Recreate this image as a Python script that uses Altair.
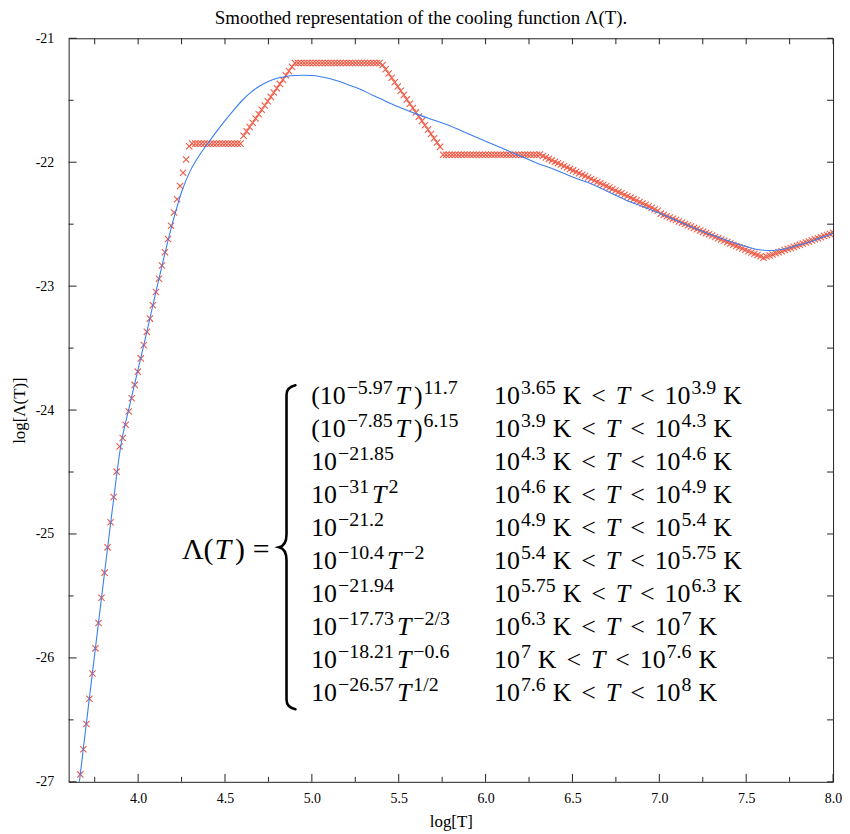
import altair as alt
import pandas as pd

# ---------------- text content ----------------
TITLE = "Smoothed representation of the cooling function Λ(T)."
X_TITLE = "log[T]"
Y_TITLE = "log[Λ(T)]"

# ---------------- data ----------------
# red "x" markers: sampled piecewise cooling function
logT_markers = [
    3.65, 3.6674, 3.6848, 3.7022, 3.7196, 3.737, 3.7544, 3.7718, 3.7892, 3.8066,
    3.824, 3.8414, 3.8588, 3.8762, 3.8936, 3.911, 3.9284, 3.9458, 3.9632, 3.9806,
    3.998, 4.0154, 4.0328, 4.0502, 4.0676, 4.085, 4.1024, 4.1198, 4.1372, 4.1546,
    4.172, 4.1894, 4.2068, 4.2242, 4.2416, 4.259, 4.2764, 4.2938, 4.3112, 4.3286,
    4.346, 4.3634, 4.3808, 4.3982, 4.4156, 4.433, 4.4504, 4.4678, 4.4852, 4.5026,
    4.52, 4.5374, 4.5548, 4.5722, 4.5896, 4.607, 4.6244, 4.6418, 4.6592, 4.6766,
    4.694, 4.7114, 4.7288, 4.7462, 4.7636, 4.781, 4.7984, 4.8158, 4.8332, 4.8506,
    4.868, 4.8854, 4.9028, 4.9202, 4.9376, 4.955, 4.9724, 4.9898, 5.0072, 5.0246,
    5.042, 5.0594, 5.0768, 5.0942, 5.1116, 5.129, 5.1464, 5.1638, 5.1812, 5.1986,
    5.216, 5.2334, 5.2508, 5.2682, 5.2856, 5.303, 5.3204, 5.3378, 5.3552, 5.3726,
    5.39, 5.4074, 5.4248, 5.4422, 5.4596, 5.477, 5.4944, 5.5118, 5.5292, 5.5466,
    5.564, 5.5814, 5.5988, 5.6162, 5.6336, 5.651, 5.6684, 5.6858, 5.7032, 5.7206,
    5.738, 5.7554, 5.7728, 5.7902, 5.8076, 5.825, 5.8424, 5.8598, 5.8772, 5.8946,
    5.912, 5.9294, 5.9468, 5.9642, 5.9816, 5.999, 6.0164, 6.0338, 6.0512, 6.0686,
    6.086, 6.1034, 6.1208, 6.1382, 6.1556, 6.173, 6.1904, 6.2078, 6.2252, 6.2426,
    6.26, 6.2774, 6.2948, 6.3122, 6.3296, 6.347, 6.3644, 6.3818, 6.3992, 6.4166,
    6.434, 6.4514, 6.4688, 6.4862, 6.5036, 6.521, 6.5384, 6.5558, 6.5732, 6.5906,
    6.608, 6.6254, 6.6428, 6.6602, 6.6776, 6.695, 6.7124, 6.7298, 6.7472, 6.7646,
    6.782, 6.7994, 6.8168, 6.8342, 6.8516, 6.869, 6.8864, 6.9038, 6.9212, 6.9386,
    6.956, 6.9734, 6.9908, 7.0082, 7.0256, 7.043, 7.0604, 7.0778, 7.0952, 7.1126,
    7.13, 7.1474, 7.1648, 7.1822, 7.1996, 7.217, 7.2344, 7.2518, 7.2692, 7.2866,
    7.304, 7.3214, 7.3388, 7.3562, 7.3736, 7.391, 7.4084, 7.4258, 7.4432, 7.4606,
    7.478, 7.4954, 7.5128, 7.5302, 7.5476, 7.565, 7.5824, 7.5998, 7.6172, 7.6346,
    7.652, 7.6694, 7.6868, 7.7042, 7.7216, 7.739, 7.7564, 7.7738, 7.7912, 7.8086,
    7.826, 7.8434, 7.8608, 7.8782, 7.8956, 7.913, 7.9304, 7.9478, 7.9652, 7.9826,
    8.0,
]
logL_markers = [
    -27.144, -26.940, -26.737, -26.533, -26.330, -26.126, -25.923, -25.719, -25.515, -25.312,
    -25.108, -24.905, -24.701, -24.497, -24.294,
    -24.225, -24.118, -24.011, -23.904, -23.797, -23.690, -23.583, -23.476, -23.369, -23.262,
    -23.155, -23.048, -22.941, -22.834, -22.727, -22.620, -22.513, -22.406, -22.299, -22.192,
    -22.085, -21.978, -21.871,
    -21.85, -21.85, -21.85, -21.85, -21.85, -21.85, -21.85, -21.85, -21.85, -21.85,
    -21.85, -21.85, -21.85, -21.85, -21.85, -21.85, -21.85,
    -21.786, -21.751, -21.716, -21.682, -21.647, -21.612, -21.577, -21.542, -21.508, -21.473,
    -21.438, -21.403, -21.368, -21.334, -21.299, -21.264, -21.229,
    -21.2, -21.2, -21.2, -21.2, -21.2, -21.2, -21.2, -21.2, -21.2, -21.2,
    -21.2, -21.2, -21.2, -21.2, -21.2, -21.2, -21.2, -21.2, -21.2, -21.2,
    -21.2, -21.2, -21.2, -21.2, -21.2, -21.2, -21.2, -21.2, -21.2,
    -21.215, -21.250, -21.284, -21.319, -21.354, -21.389, -21.424, -21.458, -21.493, -21.528,
    -21.563, -21.598, -21.632, -21.667, -21.702, -21.737, -21.772, -21.806, -21.841, -21.876,
    -21.94, -21.94, -21.94, -21.94, -21.94, -21.94, -21.94, -21.94, -21.94, -21.94,
    -21.94, -21.94, -21.94, -21.94, -21.94, -21.94, -21.94, -21.94, -21.94, -21.94,
    -21.94, -21.94, -21.94, -21.94, -21.94, -21.94, -21.94, -21.94, -21.94, -21.94,
    -21.94, -21.94,
    -21.938, -21.950, -21.961, -21.973, -21.985, -21.996, -22.008, -22.019, -22.031, -22.043,
    -22.054, -22.066, -22.077, -22.089, -22.101, -22.112, -22.124, -22.135, -22.147, -22.159,
    -22.170, -22.182, -22.193, -22.205, -22.217, -22.228, -22.240, -22.251, -22.263, -22.275,
    -22.286, -22.298, -22.309, -22.321, -22.333, -22.344, -22.356, -22.367, -22.379, -22.391,
    -22.415, -22.425, -22.436, -22.446, -22.457, -22.467, -22.478, -22.488, -22.498, -22.509,
    -22.519, -22.530, -22.540, -22.551, -22.561, -22.572, -22.582, -22.592, -22.603, -22.613,
    -22.624, -22.634, -22.645, -22.655, -22.666, -22.676, -22.686, -22.697, -22.707, -22.718,
    -22.728, -22.739, -22.749, -22.759, -22.770,
    -22.761, -22.753, -22.744, -22.735, -22.727, -22.718, -22.709, -22.701, -22.692, -22.683,
    -22.674, -22.666, -22.657, -22.648, -22.640, -22.631, -22.622, -22.614, -22.605, -22.596,
    -22.587, -22.579, -22.570,
]

# blue smoothed curve
logT_smooth = [
    3.65, 3.70, 3.75, 3.80, 3.85, 3.90, 3.95, 4.00, 4.05, 4.10, 4.15, 4.20, 4.25,
    4.30, 4.35, 4.40, 4.45, 4.50, 4.55, 4.60, 4.65, 4.70, 4.75, 4.80, 4.85, 4.90,
    4.95, 5.00, 5.05, 5.10, 5.15, 5.20, 5.25, 5.30, 5.35, 5.40, 5.45, 5.50, 5.60,
    5.70, 5.80, 5.90, 6.00, 6.10, 6.20, 6.30, 6.40, 6.50, 6.60, 6.70, 6.80, 6.90,
    7.00, 7.10, 7.20, 7.30, 7.40, 7.50, 7.55, 7.60, 7.65, 7.70, 7.75, 7.80, 7.85,
    7.90, 7.95, 8.00,
]
logL_smooth = [
    -27.14, -26.55, -25.97, -25.39, -24.82, -24.29, -23.97, -23.67, -23.37, -23.06, -22.76, -22.48, -22.24,
    -22.07, -21.95, -21.85, -21.755, -21.665, -21.58, -21.50, -21.435, -21.385, -21.348, -21.323, -21.308, -21.300,
    -21.298, -21.300, -21.31, -21.325, -21.345, -21.37, -21.395, -21.425, -21.46, -21.49, -21.525, -21.555, -21.61,
    -21.66, -21.71, -21.77, -21.83, -21.89, -21.95, -22.01, -22.06, -22.12, -22.17, -22.235, -22.30, -22.355,
    -22.41, -22.47, -22.53, -22.585, -22.635, -22.68, -22.70, -22.71, -22.712, -22.705, -22.69, -22.67, -22.65,
    -22.625, -22.60, -22.573,
]

# axis ticks
x_major = [4.0, 4.5, 5.0, 5.5, 6.0, 6.5, 7.0, 7.5, 8.0]
x_minor = [3.75, 4.25, 4.75, 5.25, 5.75, 6.25, 6.75, 7.25, 7.75]
y_major = [-27, -26, -25, -24, -23, -22, -21]
y_minor = [-26.5, -25.5, -24.5, -23.5, -22.5, -21.5]

# equation text (piecewise definition shown in the chart)
eq_lhs = [("Λ(", "R"), ("T", "I"), (")", "R"), ("=", "R")]
eq_left = [
    [("(10", "r"), ("−5.97", "s"), ("T", "i"), (")", "r"), ("11.7", "s")],
    [("(10", "r"), ("−7.85", "s"), ("T", "i"), (")", "r"), ("6.15", "s")],
    [("10", "r"), ("−21.85", "s")],
    [("10", "r"), ("−31", "s"), ("T", "i"), ("2", "s")],
    [("10", "r"), ("−21.2", "s")],
    [("10", "r"), ("−10.4", "s"), ("T", "i"), ("−2", "s")],
    [("10", "r"), ("−21.94", "s")],
    [("10", "r"), ("−17.73", "s"), ("T", "i"), ("−2/3", "s")],
    [("10", "r"), ("−18.21", "s"), ("T", "i"), ("−0.6", "s")],
    [("10", "r"), ("−26.57", "s"), ("T", "i"), ("1/2", "s")],
]
eq_lo = ["3.65", "3.9", "4.3", "4.6", "4.9", "5.4", "5.75", "6.3", "7", "7.6"]
eq_hi = ["3.9", "4.3", "4.6", "4.9", "5.4", "5.75", "6.3", "7", "7.6", "8"]

# ---------------- layout / style ----------------
W, H = 769, 748
PAD_L, PAD_T, PAD_R, PAD_B = 61, 28, 9, 48
OX, OY = 8 + PAD_L, 8 + PAD_T          # page position of plot origin
X0, X1 = 3.6, 8.0
Y0, Y1 = -27.0, -21.0
RED = "#ee5a46"
BLUE = "#3a7fef"
INK = "#222222"
SERIF = "Liberation Serif"

xs = alt.Scale(domain=[X0, X1], nice=False, zero=False)
ys = alt.Scale(domain=[Y0, Y1], nice=False, zero=False)

xaxis = alt.Axis(values=x_major, labelExpr="format(datum.value, '.1f')", title=X_TITLE,
                 ticks=False, tickSize=0, domain=False, grid=False, labelFlush=False,
                 labelFont=SERIF, labelFontSize=14, labelColor="black", labelPadding=10,
                 titleFont=SERIF, titleFontSize=17, titleFontWeight="normal",
                 titleColor="black", titlePadding=8)
yaxis = alt.Axis(values=y_major, labelExpr="'' + datum.value", title=Y_TITLE,
                 ticks=False, tickSize=0, domain=False, grid=False, labelFlush=False,
                 labelFont=SERIF, labelFontSize=14, labelColor="black", labelPadding=15,
                 titleFont=SERIF, titleFontSize=17, titleFontWeight="normal",
                 titleColor="black", titlePadding=7)


def X(field):
    return alt.X(f"{field}:Q", scale=xs, axis=xaxis)


def Y(field):
    return alt.Y(f"{field}:Q", scale=ys, axis=yaxis)


def px_to_data(px, py):
    return (X0 + (px - OX) / W * (X1 - X0), Y1 - (py - OY) / H * (Y1 - Y0))


# ---------------- main series ----------------
markers = alt.Chart(pd.DataFrame({"logT": logT_markers, "logL": logL_markers})).mark_point(
    shape="M-1,-1L1,1M-1,1L1,-1", size=40, strokeWidth=1.1, color=RED,
    filled=False, opacity=1, clip=True
).encode(x=X("logT"), y=Y("logL"))

curve = alt.Chart(pd.DataFrame({"logT": logT_smooth, "logL": logL_smooth})).mark_line(
    color=BLUE, strokeWidth=1.1, interpolate="monotone", clip=True
).encode(x=X("logT"), y=Y("logL"))

# ---------------- inward ticks on all four sides ----------------
tick_layers = []
for vals, ln in ((x_major, 8), (x_minor, 5)):
    d = pd.DataFrame({"t": vals})
    tick_layers.append(alt.Chart(d).mark_rule(color=INK, strokeWidth=1).encode(
        x=X("t"), y=alt.value(H), y2=alt.value(H - ln)))
    tick_layers.append(alt.Chart(d).mark_rule(color=INK, strokeWidth=1).encode(
        x=X("t"), y=alt.value(0), y2=alt.value(6)))
for vals, ln in ((y_major, 8), (y_minor, 5)):
    d = pd.DataFrame({"t": vals})
    tick_layers.append(alt.Chart(d).mark_rule(color=INK, strokeWidth=1).encode(
        y=Y("t"), x=alt.value(0), x2=alt.value(ln)))
    tick_layers.append(alt.Chart(d).mark_rule(color=INK, strokeWidth=1).encode(
        y=Y("t"), x=alt.value(W), x2=alt.value(W - 6)))

# ---------------- equation annotation ----------------
SIZES = {"r": 26, "i": 26, "s": 20, "R": 30, "I": 30}
EM = {"0": .5, "1": .5, "2": .5, "3": .5, "4": .5, "5": .5, "6": .5, "7": .5, "8": .5,
      "9": .5, ".": .25, "−": .564, "(": .333, ")": .333, "/": .278, "K": .722,
      "<": .564, "=": .564, "T": .556, "Λ": .722, " ": .25}


def tok_width(text, kind):
    return sum(EM.get(c, .5) for c in text) * SIZES[kind]


def tok_gap(prev, cur):
    (pt, pk), (ct, ck) = prev, cur
    if pt == "<" or ct == "<":
        return 10
    if ct == "=" or pt == "=":
        return 8
    if ck == "s":
        return 2 if pk == "i" else 1
    if pk == "s" and ck == "i":
        return 3
    if pk == "s":
        return 7
    if pk in "iI":
        return 4
    if pk == "R" and ck == "I":
        return 1
    return 0


rows = []


def lay(tokens, x, base):
    prev = None
    for t, k in tokens:
        if prev is not None:
            x += tok_gap(prev, (t, k))
        y = base - 10 if k == "s" else base
        dx, dy = px_to_data(x, y)
        rows.append({"x": dx, "y": dy, "text": t, "kind": k})
        x += tok_width(t, k)
        prev = (t, k)


lay(eq_lhs, 183, 560)
for i, toks in enumerate(eq_left):
    base = 404 + 33.2 * i
    lay(toks, 313, base)
    right = [("10", "r"), (eq_lo[i], "s"), ("K", "r"), ("<", "r"), ("T", "i"),
             ("<", "r"), ("10", "r"), (eq_hi[i], "s"), ("K", "r")]
    lay(right, 497, base)

eq_df = pd.DataFrame(rows)
text_layers = []
for kind, style in (("r", "normal"), ("i", "italic"), ("s", "normal"), ("R", "normal"), ("I", "italic")):
    sub = eq_df[eq_df["kind"] == kind]
    text_layers.append(alt.Chart(sub).mark_text(
        align="left", baseline="alphabetic", font=SERIF, fontSize=SIZES[kind],
        fontStyle=style, color="black"
    ).encode(x=X("x"), y=Y("y"), text="text:N"))

# big curly brace
BRACE = ("M0.05,-1 C0.012,-0.992 -0.005,-0.975 -0.005,-0.94 L-0.005,-0.08 "
         "C-0.005,-0.03 -0.02,-0.008 -0.05,0 C-0.02,0.008 -0.005,0.03 -0.005,0.08 "
         "L-0.005,0.94 C-0.005,0.975 0.012,0.992 0.05,1")
bx, by = px_to_data(289, 548)
brace = alt.Chart(pd.DataFrame({"x": [bx], "y": [by]})).mark_point(
    shape=BRACE, size=326 ** 2, filled=False, color="black", strokeWidth=2.6,
    opacity=1, strokeCap="round"
).encode(x=X("x"), y=Y("y"))

chart = alt.layer(markers, curve, *tick_layers, *text_layers, brace).properties(
    width=W, height=H,
    title=alt.TitleParams(TITLE, font=SERIF, fontSize=19, fontWeight="normal",
                          color="black", anchor="middle", dx=-30, offset=3),
    autosize=alt.AutoSizeParams(type="none"),
    padding={"left": PAD_L, "top": PAD_T, "right": PAD_R, "bottom": PAD_B},
).configure_view(stroke=INK, strokeWidth=1)

chart.save("out.html", embed_options={"renderer": "svg", "actions": False})
